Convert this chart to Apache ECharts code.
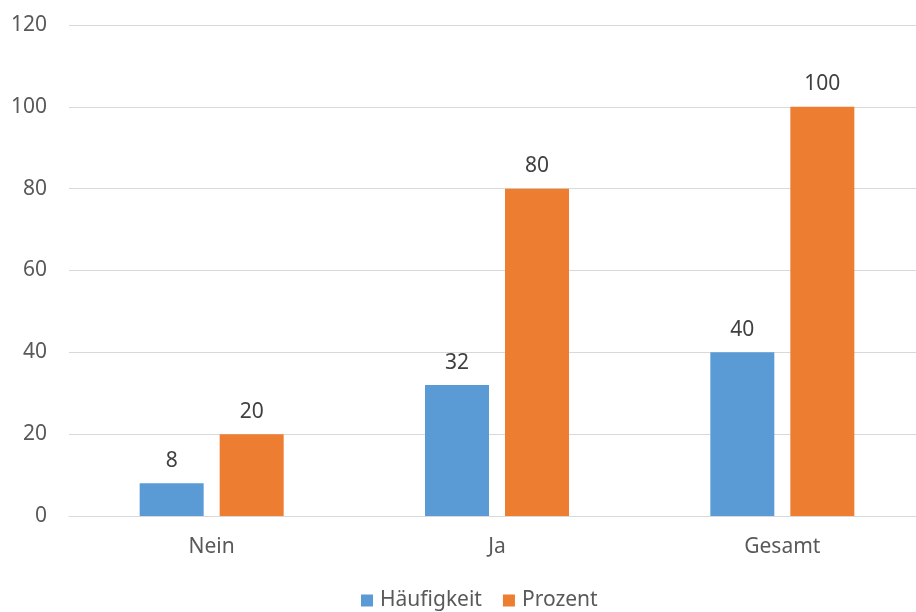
<!DOCTYPE html>
<html>
<head>
<meta charset="utf-8">
<script src="https://cdn.jsdelivr.net/npm/echarts@6/dist/echarts.min.js"></script>
<style>
  html, body { margin: 0; padding: 0; background: #fff; overflow: hidden; }
  #wrap { width: 916px; height: 612px; overflow: hidden; }
  /* plot area runs slightly past the right edge of the visible frame */
  #chart { width: 925px; height: 612px; }
</style>
</head>
<body>
<div id="wrap"><div id="chart"></div></div>
<script>
// Category labels and values per series
const categories = ['Nein', 'Ja', 'Gesamt'];
const haeufigkeit = [8, 32, 40];
const prozent = [20, 80, 100];
const yTicks = { min: 0, max: 120, interval: 20 };

const textColor = '#595959';
const font = 'Noto Sans';

const chart = echarts.init(document.getElementById('chart'), null, { renderer: 'canvas' });

const labelStyle = {
  show: true,
  position: 'top',
  distance: 12,
  color: '#404040',
  fontFamily: font,
  fontSize: 21
};

chart.setOption({
  animation: false,
  backgroundColor: '#ffffff',
  grid: { left: 69, top: 25, right: 0, bottom: 96, containLabel: false },
  legend: {
    data: ['Häufigkeit', 'Prozent'],
    top: 590,
    left: 361,
    padding: 0,
    itemWidth: 12,
    itemHeight: 12,
    itemGap: 21,
    icon: 'rect',
    textStyle: { color: textColor, fontFamily: font, fontSize: 21, padding: [0, 0, 0, 2] }
  },
  xAxis: {
    type: 'category',
    data: categories,
    axisLine: { lineStyle: { color: '#D9D9D9', width: 1 } },
    axisTick: { show: false },
    axisLabel: { color: textColor, fontFamily: font, fontSize: 21, margin: 21 }
  },
  yAxis: {
    type: 'value',
    min: yTicks.min,
    max: yTicks.max,
    interval: yTicks.interval,
    axisLine: { show: false },
    axisTick: { show: false },
    splitLine: { lineStyle: { color: '#D9D9D9', width: 1 } },
    axisLabel: { color: textColor, fontFamily: font, fontSize: 21, margin: 22 }
  },
  series: [
    {
      name: 'Häufigkeit',
      type: 'bar',
      data: haeufigkeit,
      barWidth: 64,
      barGap: '25%',
      itemStyle: { color: '#5B9BD5' },
      label: labelStyle
    },
    {
      name: 'Prozent',
      type: 'bar',
      data: prozent,
      barWidth: 64,
      itemStyle: { color: '#ED7D31' },
      label: labelStyle
    }
  ]
});
</script>
</body>
</html>
